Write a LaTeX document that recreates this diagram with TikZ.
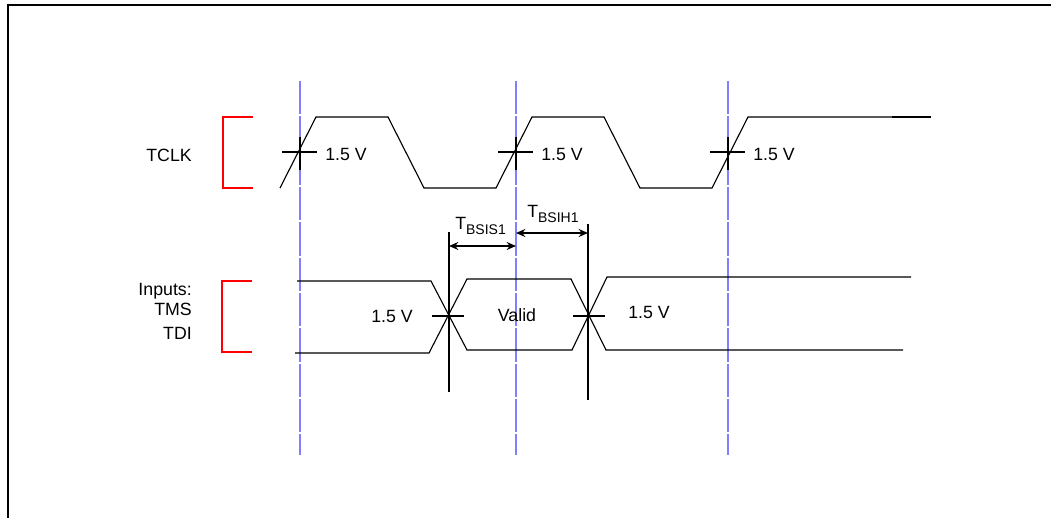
\documentclass[tikz,border=0pt]{standalone}
\usepackage{fontspec}
\setmainfont{Liberation Sans}
\usetikzlibrary{arrows.meta}

\begin{document}
\begin{tikzpicture}[x=0.75pt, y=-0.75pt, font=\fontsize{13.3}{15}\selectfont,
		wave/.style={line width=0.85pt},
		edgeline/.style={blue!50, line width=1.5pt, dash pattern=on 25pt off 1.5pt},
		bracket/.style={red, line width=1.3pt},
		tick/.style={line width=1.5pt},
		dim/.style={line width=1.1pt, {Stealth[length=7pt,width=6pt]}-{Stealth[length=7pt,width=6pt]}},
		lbl/.style={inner sep=0pt}]

			\useasboundingbox (0,0) rectangle (1051,518);
			\draw[line width=1.6pt] (8,518) -- (8,5) -- (1051,5);

			\foreach \x in {300,516,728}
			\draw[edgeline] (\x,81) -- (\x,455);

			\draw[bracket] (253,117) -- (223,117) -- (223,188) -- (253,188);
			\draw[bracket] (252,281) -- (222,281) -- (222,352) -- (252,352);

			\node[lbl, anchor=east] (tclk) at (192,155) {TCLK};
			\node[lbl, anchor=base east] (inputs) at (192,295) {Inputs:};
			\node[lbl, anchor=base east] (tms) at (192,315) {TMS};
			\node[lbl, anchor=base east] (tdi) at (192,339) {TDI};

			\draw[wave] (280,188) -- (316,117) -- (388,117) -- (424,188) -- (496,188) -- (532,117)
			-- (604,117) -- (640,188) -- (712,188) -- (748,117) -- (892,117);
			\draw[tick] (892,117) -- (931,117);

			\foreach \x in {300,516,728} {
				\draw[tick] (\x-18,152) -- (\x+17,152);
				\draw[tick] (\x,137) -- (\x,170);
				\node[lbl, anchor=west] at (\x+25,154) {1.5 V};
			}

			\draw[wave] (297,281) -- (431,281) -- (467,350) -- (572,350) -- (607,277) -- (911,277);
			\draw[wave] (295,353) -- (429,353) -- (467,279) -- (571,279) -- (606,350) -- (903,350);

			\coordinate (setup) at (449,246);
			\coordinate (hold) at (588,233);
			\coordinate (clkS) at (516,246);
			\coordinate (clkH) at (516,233);
			\draw[tick] (449,232) -- (449,392);
			\draw[tick] (588,224) -- (588,400);
			\draw[tick] (432,316) -- (464,316);
			\draw[tick] (573,316) -- (605,316);
			\draw[dim] (setup) -- (clkS);
			\draw[dim] (clkH) -- (hold);

			\node[lbl, anchor=base west] (tsis) at (455,229) {T\raisebox{-3.75pt}{\fontsize{10.5}{12}\selectfont BSIS1}};
			\node[lbl, anchor=base west] (tsih) at (527,217) {T\raisebox{-3.75pt}{\fontsize{10.5}{12}\selectfont BSIH1}};

			\node[lbl] (valid) at (517,315) {Valid};
			\node[lbl] (vleft) at (392,316) {1.5 V};
			\node[lbl] (vright) at (649,312) {1.5 V};

		\end{tikzpicture}
\end{document}
